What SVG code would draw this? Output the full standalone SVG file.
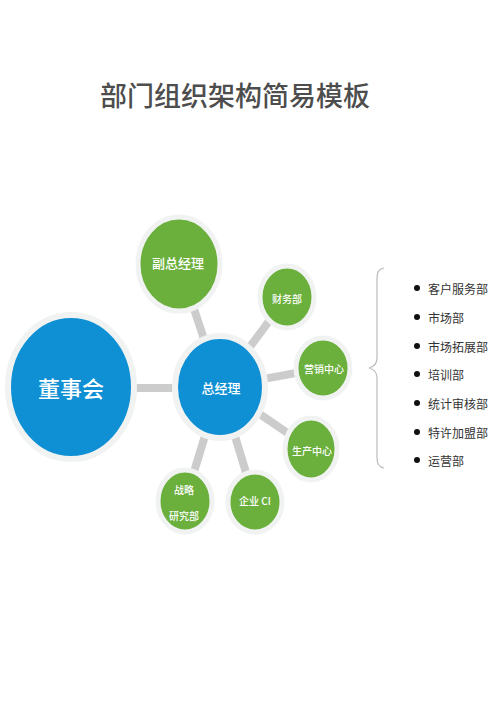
<svg xmlns="http://www.w3.org/2000/svg" width="500" height="707" viewBox="0 0 500 707">
<style>
text{font-family:"Noto Sans CJK SC","Liberation Sans",sans-serif;}
.title{font-size:27px;fill:#4d4d4d;font-weight:500;}
.blue{fill:#0f8fd4;stroke:#f1f3f3;stroke-width:6;}
.green{fill:#6bb03d;stroke:#f1f3f3;stroke-width:5;}
.lbl{fill:#ffffff;text-anchor:middle;dominant-baseline:central;font-weight:500;}
.conn{stroke:#cccccc;stroke-width:8;fill:none;}
.item{font-size:12px;fill:#333333;dominant-baseline:central;}
.dot{fill:#111111;}
</style>
<rect width="500" height="707" fill="#ffffff"/>
<text class="title" x="235" y="106" text-anchor="middle">部门组织架构简易模板</text>
<g id="connectors">
<line class="conn" x1="130" y1="388" x2="180" y2="388"/>
<line class="conn" x1="220" y1="387" x2="179" y2="264"/>
<line class="conn" x1="220" y1="387" x2="287" y2="297"/>
<line class="conn" x1="220" y1="387" x2="323" y2="368"/>
<line class="conn" x1="220" y1="387" x2="311" y2="449"/>
<line class="conn" x1="220" y1="387" x2="255" y2="502"/>
<line class="conn" x1="220" y1="387" x2="185" y2="501"/>
</g>
<g id="n-dongshihui">
<ellipse class="blue" cx="71" cy="387" rx="63" ry="72"/>
<text class="lbl" x="71" y="387" font-size="22">董事会</text>
</g>
<g id="n-zongjingli">
<ellipse class="blue" cx="220" cy="387" rx="45" ry="51"/>
<text class="lbl" x="221" y="387" font-size="13">总经理</text>
</g>
<g id="n-fuzongjingli">
<ellipse class="green" cx="179" cy="264" rx="41" ry="47"/>
<text class="lbl" x="178" y="262" font-size="13">副总经理</text>
</g>
<g id="n-caiwubu">
<ellipse class="green" cx="287" cy="297" rx="27" ry="31"/>
<text class="lbl" x="287" y="298" font-size="10">财务部</text>
</g>
<g id="n-yingxiao">
<ellipse class="green" cx="323" cy="368" rx="27" ry="30"/>
<text class="lbl" x="324" y="368" font-size="10">营销中心</text>
</g>
<g id="n-shengchan">
<ellipse class="green" cx="311" cy="449" rx="26" ry="31"/>
<text class="lbl" x="312" y="450" font-size="10">生产中心</text>
</g>
<g id="n-qiye">
<ellipse class="green" cx="255" cy="502" rx="27" ry="30"/>
<text class="lbl" x="255" y="500" font-size="10">企业 CI</text>
</g>
<g id="n-zhanlue">
<ellipse class="green" cx="185" cy="501" rx="27" ry="31"/>
<text class="lbl" x="184" y="489" font-size="10">战略</text>
<text class="lbl" x="184" y="515" font-size="10">研究部</text>
</g>
<g id="bracket">
<path d="M384,268 Q377,269 377,278 L377,358 Q377,366 369,368 Q377,370 377,378 L377,458 Q377,467 384,468" fill="none" stroke="#bbbbbb" stroke-width="1.2"/>
</g>
<g id="list">
<circle class="dot" cx="417" cy="288" r="3"/><text class="item" x="428" y="288">客户服务部</text>
<circle class="dot" cx="417" cy="317" r="3"/><text class="item" x="428" y="317">市场部</text>
<circle class="dot" cx="417" cy="346" r="3"/><text class="item" x="428" y="346">市场拓展部</text>
<circle class="dot" cx="417" cy="374" r="3"/><text class="item" x="428" y="374">培训部</text>
<circle class="dot" cx="417" cy="403" r="3"/><text class="item" x="428" y="403">统计审核部</text>
<circle class="dot" cx="417" cy="432" r="3"/><text class="item" x="428" y="432">特许加盟部</text>
<circle class="dot" cx="417" cy="460" r="3"/><text class="item" x="428" y="460">运营部</text>
</g>
</svg>
